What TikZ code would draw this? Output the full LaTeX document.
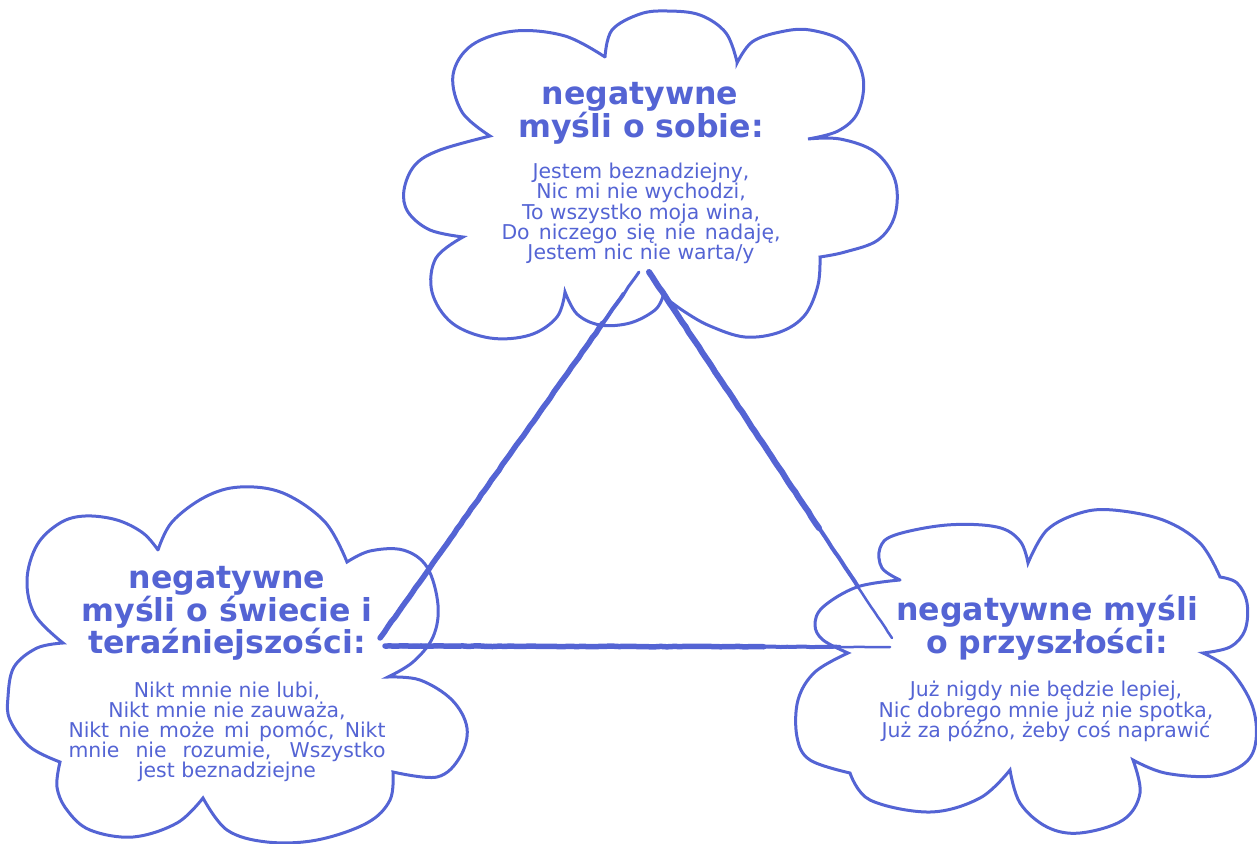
\documentclass[tikz,border=0pt]{standalone}
\usepackage{fontspec}
\setmainfont{DejaVu Sans}
\usetikzlibrary{calc,decorations.pathmorphing}
\definecolor{ink}{RGB}{84,100,212}
\begin{document}
\begin{tikzpicture}[x=1pt,y=-1pt,
  cloud/.style={draw=ink, line width=3pt, line cap=round},
  head/.style={text=ink, font=\fontsize{31.6}{33}\selectfont\bfseries, anchor=base, inner sep=0pt},
  body/.style={text=ink, font=\fontsize{20.4}{20.4}\selectfont, anchor=base, inner sep=0pt},
  tri/.style={draw=ink, line cap=round, decorate, decoration={random steps, segment length=6pt, amplitude=0.3pt}}
]
\useasboundingbox (0,0) rectangle (1257,843);

% ---------- top cloud ----------
\draw[cloud] plot[smooth, tension=0.6] coordinates {(605,57) (612,30) (640,14) (667,11) (700,15) (726,33) (737,62)}
  -- plot[smooth, tension=0.6] coordinates {(737,63) (752,42) (780,32) (810,30) (845,43) (863,77) (858,112) (838,131) (808,139)}
  -- plot[smooth, tension=0.6] coordinates {(808,139) (840,139) (875,152) (895,180) (895,215) (878,240) (845,252) (820,257)}
  -- plot[smooth, tension=0.6] coordinates {(820,257) (818,285) (805,315) (780,332) (745,337) (710,326) (685,312) (663,296)}
  -- plot[smooth, tension=0.6] coordinates {(663,296) (655,310) (630,323) (600,325) (577,314) (565,292)}
  -- plot[smooth, tension=0.6] coordinates {(565,292) (557,317) (530,335) (490,338) (452,323) (432,292) (436,258) (463,237)}
  -- plot[smooth, tension=0.6] coordinates {(463,237) (430,230) (408,212) (404,190) (415,165) (440,150) (490,136)}
  -- plot[smooth, tension=0.6] coordinates {(490,136) (462,112) (453,75) (472,45) (515,31) (565,36) (605,57)};

\node[head] (t1) at (640,104) {negatywne};
\node[head] (t2) at (641,137) {myśli o sobie:};
\node[body] (t3) at (641,178) {Jestem beznadziejny,};
\node[body] (t4) at (641,198) {Nic mi nie wychodzi,};
\node[body] (t5) at (641,219) {To wszystko moja wina,};
\node[body] (t6) at (641,239) {\makebox[279pt][s]{Do niczego się nie nadaję,}};
\node[body] (t7) at (641,259) {Jestem nic nie warta/y};

% ---------- left cloud ----------
\draw[cloud] plot[smooth, tension=0.6] coordinates {(158,550) (172,522) (205,497) (240,487) (283,493) (325,522) (347,562)}
  -- plot[smooth, tension=0.6] coordinates {(347,562) (370,551) (403,550) (427,567) (438,605) (433,637) (413,662) (388,677)}
  -- plot[smooth, tension=0.6] coordinates {(388,677) (420,680) (452,700) (467,728) (460,757) (437,777) (393,772)}
  -- plot[smooth, tension=0.6] coordinates {(393,772) (390,800) (367,823) (317,840) (267,842) (227,830) (203,798)}
  -- plot[smooth, tension=0.6] coordinates {(203,798) (177,823) (133,837) (90,830) (67,810) (57,787) (60,762)}
  -- plot[smooth, tension=0.6] coordinates {(60,762) (30,747) (10,720) (8,697) (14,667) (37,648) (63,643)}
  -- plot[smooth, tension=0.6] coordinates {(63,643) (35,615) (27,580) (37,545) (60,523) (85,516) (117,520) (143,533) (158,550)};

\node[head] (l1) at (227,588) {negatywne};
\node[head] (l2) at (227,621) {myśli o świecie i};
\node[head] (l3) at (227,653) {teraźniejszości:};
\node[body] (l4) at (227,697) {Nikt mnie nie lubi,};
\node[body] (l5) at (227,717) {Nikt mnie nie zauważa,};
\node[body] (l6) at (227,737) {\makebox[317pt][s]{Nikt nie może mi pomóc, Nikt}};
\node[body] (l7) at (227,757) {\makebox[317pt][s]{mnie nie rozumie, Wszystko}};
\node[body] (l8) at (227,777) {jest beznadziejne};

% ---------- right cloud ----------
\draw[cloud] plot[smooth, tension=0.6] coordinates {(900,580) (882,568) (880,548) (895,535) (947,525) (997,527) (1020,541) (1028,563)}
  -- plot[smooth, tension=0.6] coordinates {(1028,563) (1047,530) (1080,513) (1113,510) (1163,520) (1200,543) (1220,577)}
  -- plot[smooth, tension=0.6] coordinates {(1220,577) (1237,583) (1247,603) (1245,630) (1230,647) (1203,653)}
  -- plot[smooth, tension=0.6] coordinates {(1203,653) (1230,670) (1252,705) (1256,740) (1245,763) (1213,776) (1165,773) (1133,760)}
  -- plot[smooth, tension=0.6] coordinates {(1133,760) (1140,793) (1123,820) (1080,833) (1047,827) (1020,803) (1010,770)}
  -- plot[smooth, tension=0.6] coordinates {(1010,770) (980,798) (930,812) (870,800) (850,773)}
  -- plot[smooth, tension=0.6] coordinates {(850,773) (810,760) (797,737) (798,700) (815,672) (848,653)}
  -- plot[smooth, tension=0.6] coordinates {(848,653) (823,640) (815,625) (823,607) (857,587) (900,580)};

\node[head] (r1) at (1047,620) {negatywne myśli};
\node[head] (r2) at (1047,653) {o przyszłości:};
\node[body] (r3) at (1046,696) {Już nigdy nie będzie lepiej,};
\node[body] (r4) at (1046,717) {Nic dobrego mnie już nie spotka,};
\node[body] (r5) at (1046,737) {Już za późno, żeby coś naprawić};

% ---------- triangle ----------
\coordinate (apexL) at (639,272);
\coordinate (apexR) at (649,272);
\coordinate (leftA) at (380,638);
\coordinate (leftB) at (385,646);
\coordinate (rightA) at (892,638);
\coordinate (rightB) at (890,647);

\draw[tri, line width=3pt] (apexL) -- (leftA);
\draw[tri, line width=4pt] ($(apexL)!0.06!(leftA)$) -- (leftA);
\draw[tri, line width=5.5pt] ($(apexL)!0.14!(leftA)$) -- (leftA);
\draw[tri, line width=2.5pt] (apexR) -- (rightA);
\draw[tri, line width=4pt] (apexR) -- ($(apexR)!0.86!(rightA)$);
\draw[tri, line width=6pt] (apexR) -- ($(apexR)!0.7!(rightA)$);
\draw[tri, line width=2.5pt] (leftB) -- (rightB);
\draw[tri, line width=4pt] (leftB) -- ($(leftB)!0.9!(rightB)$);
\draw[tri, line width=5.5pt] (leftB) -- ($(leftB)!0.75!(rightB)$);
\end{tikzpicture}
\end{document}
